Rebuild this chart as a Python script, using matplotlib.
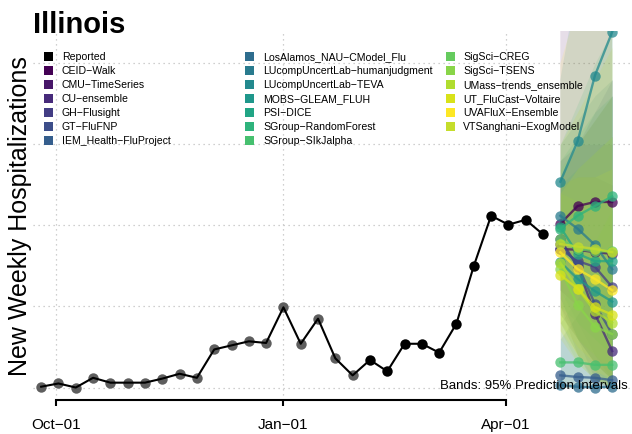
import numpy as np
import pandas as pd
import matplotlib
matplotlib.use('Agg')
import matplotlib.pyplot as plt
import matplotlib.dates as mdates
from matplotlib.patches import Rectangle

plt.rcParams['font.family'] = ['Liberation Sans', 'DejaVu Sans']

# Données observées (hospitalisations hebdomadaires, samedis)
dates_obs = pd.date_range('2021-09-25', periods=30, freq='7D')
reported = [1, 5, 0, 12, 6, 6, 6, 11, 17, 12, 47, 52, 57, 55, 99, 54, 85, 36, 15, 34,
            20, 54, 54, 43, 79, 150, 212, 201, 207, 189]
n_older = 19  # premiers points dessinés en gris

# Prévisions à 1-4 semaines
dates_fc = pd.date_range('2022-04-23', periods=4, freq='7D')

models = ['CEID-Walk', 'CMU-TimeSeries', 'CU-ensemble', 'GH-Flusight', 'GT-FluFNP',
          'IEM_Health-FluProject', 'LosAlamos_NAU-CModel_Flu',
          'LUcompUncertLab-humanjudgment', 'LUcompUncertLab-TEVA', 'MOBS-GLEAM_FLUH',
          'PSI-DICE', 'SGroup-RandomForest', 'SGroup-SIkJalpha', 'SigSci-CREG',
          'SigSci-TSENS', 'UMass-trends_ensemble', 'UT_FluCast-Voltaire',
          'UVAFluX-Ensemble', 'VTSanghani-ExogModel']

fc_median = [
    [202, 224, 229, 229],
    [171, 170, 167, 165],
    [183, 149, 91, 45],
    [171, 156, 149, 124],
    [177, 152, 103, 66],
    [15, 13, 12, 9],
    [3, 1, 0, 1],
    [212, 196, 176, 146],
    [254, 304, 385, 439],
    [155, 134, 119, 106],
    [198, 165, 156, 156],
    [196, 212, 224, 236],
    [31, 31, 28, 28],
    [183, 171, 168, 168],
    [146, 102, 75, 66],
    [154, 122, 94, 80],
    [139, 122, 99, 90],
    [167, 146, 134, 120],
    [177, 174, 171, 167],
]
fc_lower = [
    [120, 100, 80, 60],
    [90, 60, 30, 10],
    [100, 40, 5, 0],
    [100, 60, 30, 10],
    [110, 60, 10, 0],
    [0, 0, 0, 0],
    [0, 0, 0, 0],
    [120, 80, 40, 10],
    [150, 150, 160, 170],
    [80, 40, 20, 5],
    [110, 60, 30, 10],
    [100, 80, 60, 40],
    [0, 0, 0, 0],
    [90, 60, 40, 20],
    [70, 30, 10, 0],
    [80, 40, 10, 0],
    [60, 30, 10, 0],
    [70, 40, 20, 10],
    [80, 50, 30, 10],
]
fc_upper = [
    [450, 520, 600, 650],
    [260, 300, 330, 360],
    [280, 300, 300, 300],
    [260, 300, 340, 380],
    [250, 260, 260, 250],
    [80, 110, 140, 170],
    [60, 90, 120, 150],
    [300, 330, 360, 380],
    [380, 500, 620, 750],
    [250, 270, 290, 310],
    [280, 310, 340, 360],
    [300, 350, 400, 440],
    [100, 140, 180, 220],
    [270, 300, 330, 360],
    [240, 230, 230, 240],
    [250, 260, 260, 270],
    [240, 270, 290, 310],
    [400, 470, 540, 600],
    [300, 340, 380, 420],
]

colors = [matplotlib.colors.to_hex(c) for c in plt.cm.viridis(np.linspace(0, 1, 18))]
colors.append('#c5dd2b')

W, H = 632, 435
fig = plt.figure(figsize=(W / 100, H / 100), dpi=100)
ax = fig.add_axes([33 / W, 34 / H, 599 / W, 369 / H])

oct1 = mdates.date2num(pd.Timestamp('2021-10-01'))
jan1 = mdates.date2num(pd.Timestamp('2022-01-01'))
apr1 = mdates.date2num(pd.Timestamp('2022-04-01'))

# Bandes (intervalles de prédiction 95%)
for lo, hi, c in zip(fc_lower, fc_upper, colors):
    ax.fill_between(dates_fc, lo, hi, color=c, alpha=0.13, lw=0, zorder=2)

# Courbes de prévision
for med, c in zip(fc_median, colors):
    ax.plot(dates_fc, med, '-o', color=c, alpha=0.75, lw=1.7, ms=7.5, mew=0, zorder=3)

# Données observées
ax.plot(dates_obs[:n_older], reported[:n_older], 'o', color='#5e5e5e', ms=7.5, mew=0, zorder=4)
ax.plot(dates_obs, reported, color='black', lw=1.5, zorder=5)
ax.plot(dates_obs[n_older:], reported[n_older:], 'o', color='black', ms=7.5, mew=0, zorder=6)

ax.set_xlim(oct1 - 9.3, oct1 + 233)
ax.set_ylim(-15.4, 440)

ax.set_yticks([0, 100, 200, 300, 400])
ax.set_yticklabels([])
ax.tick_params(axis='y', length=0)
ax.set_xticks([oct1, jan1, apr1])
ax.set_xticklabels(['Oct\u221201', 'Jan\u221201', 'Apr\u221201'])
ax.tick_params(axis='x', direction='out', length=4, width=1.5, pad=8, labelsize=11)

for s in ['top', 'right', 'left']:
    ax.spines[s].set_visible(False)
ax.spines['bottom'].set_bounds(oct1, apr1)
ax.spines['bottom'].set_linewidth(1.5)

ax.set_axisbelow(True)
ax.grid(True, linestyle=(0, (1, 3)), color='#c0c0c0', lw=0.9)

ax.text(1.0 - 4 / 599, (388.5 - 386) / 0.81, 'Bands: 95% Prediction Intervals',
        transform=ax.get_yaxis_transform(), ha='right', va='center', fontsize=9.5, zorder=10)

# Titre et label
fig.text(33 / W, 1 - 33 / H, 'Illinois', fontsize=21, fontweight='bold', ha='left', va='baseline')
fig.text(20 / W, 1 - 216 / H, 'New Weekly Hospitalizations', fontsize=18, rotation=90,
         ha='center', va='center')

# Légende manuelle (3 colonnes)
labels = ['Reported'] + [m.replace('-', '\u2212') for m in models]
leg_colors = ['black'] + colors
col_mark = [48, 249, 450]
col_text = [62, 263, 463]
for i, (lab, c) in enumerate(zip(labels, leg_colors)):
    col, row = divmod(i, 7)
    yc = 57.5 + 14.0 * row
    fig.add_artist(Rectangle(((col_mark[col] - 4.5) / W, 1 - (yc + 4.5) / H), 9 / W, 9 / H,
                             transform=fig.transFigure, color=c, lw=0))
    fig.text(col_text[col] / W, 1 - yc / H, lab, fontsize=7.6, ha='left', va='center')

fig.savefig('out.png', dpi=100)
